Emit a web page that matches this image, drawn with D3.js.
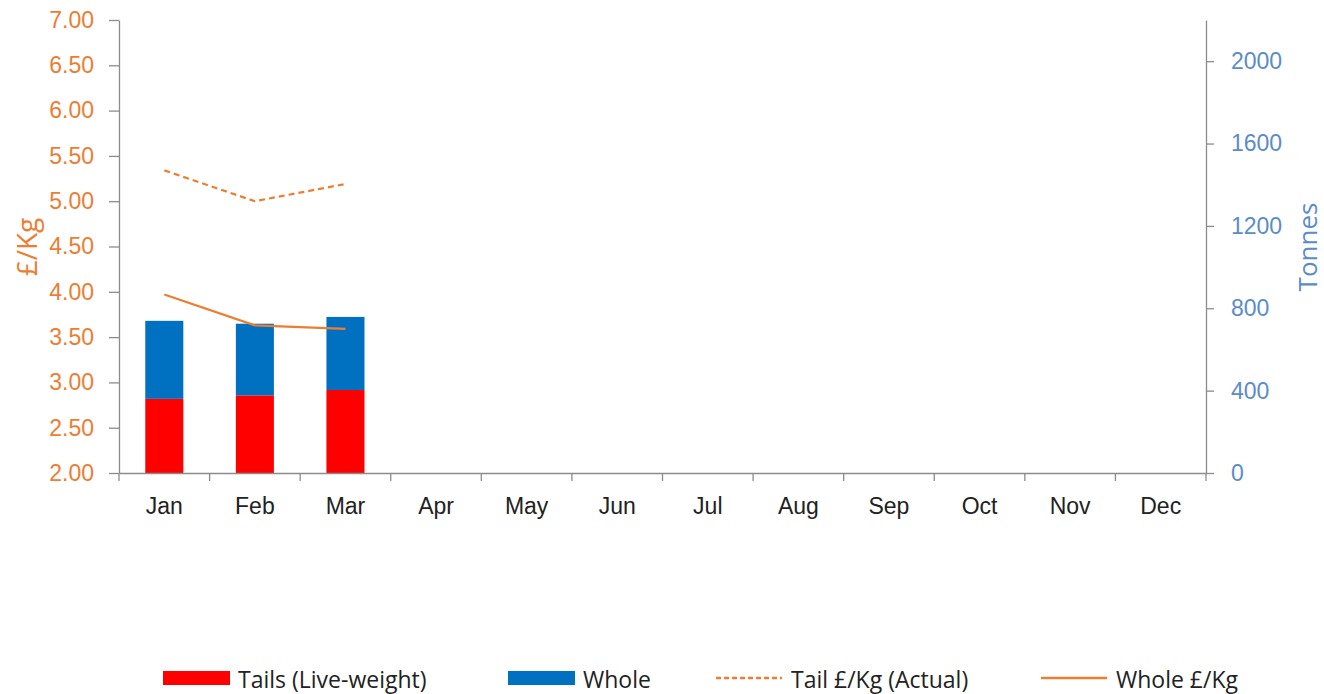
<!DOCTYPE html>
<html>
<head>
<meta charset="utf-8">
<script src="https://cdn.jsdelivr.net/npm/d3@7"></script>
<style>
  body { margin: 0; background: #fff; }
  svg { display: block; font-family: "Open Sans", "Liberation Sans", sans-serif; }
</style>
</head>
<body>
<svg id="chart" width="1324" height="694"></svg>
<script>
// chart data
const months = ["Jan", "Feb", "Mar", "Apr", "May", "Jun", "Jul", "Aug", "Sep", "Oct", "Nov", "Dec"];
const tails = [360, 377, 403];          // tonnes, live-weight
const whole = [379, 348, 355];          // tonnes
const tailPrice = [5.34, 5.00, 5.19];   // £/Kg actual
const wholePrice = [3.97, 3.63, 3.59];  // £/Kg
const priceTicks = [2, 2.5, 3, 3.5, 4, 4.5, 5, 5.5, 6, 6.5, 7];
const tonneTicks = [0, 400, 800, 1200, 1600, 2000];

const orange = "#ED7D31";
const blue = "#5B8CC8";
const grey = "#8C8C8C";
const fontSize = "23px";

let svg = d3.select("#chart");
let margin = {top: 20, left: 119, right: 118, bottom: 221};
let width = 1324 - margin.left - margin.right;
let height = 694 - margin.top - margin.bottom;

let g = svg.append("g")
	.attr("transform", "translate(" + margin.left + "," + margin.top + ")");

let x = d3.scaleBand().domain(months).range([0, width]).padding(0);
let yLeft = d3.scaleLinear().domain([2, 7]).range([height, 0]);
let yRight = d3.scaleLinear().domain([0, 2200]).range([height, 0]);

// bars (stacked)
let barW = x.bandwidth() * 0.42;
let stacked = tails.map(function(t, i){
	return {month: months[i], tails: t, whole: whole[i]};
});

g.selectAll("rect.tails")
	.data(stacked)
	.enter()
	.append("rect")
	.attr("class", "tails")
	.attr("x", d => x(d.month) + (x.bandwidth() - barW) / 2)
	.attr("width", barW)
	.attr("y", d => yRight(d.tails))
	.attr("height", d => yRight(0) - yRight(d.tails))
	.attr("fill", "#FF0000");

g.selectAll("rect.whole")
	.data(stacked)
	.enter()
	.append("rect")
	.attr("class", "whole")
	.attr("x", d => x(d.month) + (x.bandwidth() - barW) / 2)
	.attr("width", barW)
	.attr("y", d => yRight(d.tails + d.whole))
	.attr("height", d => yRight(d.tails) - yRight(d.tails + d.whole))
	.attr("fill", "#0070C0");

// lines
let line = d3.line()
	.x((d, i) => x(months[i]) + x.bandwidth() / 2)
	.y(d => yLeft(d));

g.append("path")
	.datum(tailPrice)
	.attr("d", line)
	.attr("fill", "none")
	.attr("stroke", orange)
	.attr("stroke-width", 2.2)
	.attr("stroke-dasharray", "6,4");

g.append("path")
	.datum(wholePrice)
	.attr("d", line)
	.attr("fill", "none")
	.attr("stroke", orange)
	.attr("stroke-width", 2.2);

// axes
let leftAxis = g.append("g")
	.call(d3.axisLeft(yLeft).tickValues(priceTicks).tickFormat(d3.format(".2f")).tickSize(10).tickPadding(15).tickSizeOuter(0));

let rightAxis = g.append("g")
	.attr("transform", "translate(" + width + ",0)")
	.call(d3.axisRight(yRight).tickValues(tonneTicks).tickFormat(d3.format("d")).tickSize(8).tickPadding(17).tickSizeOuter(0));

let xAxis = g.append("g")
	.attr("transform", "translate(0," + height + ")")
	.call(d3.axisBottom(x).tickSize(0).tickPadding(25));

// category tick marks sit on the band edges
xAxis.selectAll(".edge")
	.data(d3.range(months.length + 1))
	.enter()
	.append("line")
	.attr("class", "edge")
	.attr("x1", i => i * x.step())
	.attr("x2", i => i * x.step())
	.attr("y1", 0)
	.attr("y2", 8);

[leftAxis, rightAxis, xAxis].forEach(function(a){
	a.selectAll("path.domain").attr("stroke", grey).attr("stroke-width", 1.3);
	a.selectAll("line").attr("stroke", grey).attr("stroke-width", 1.3);
	a.selectAll("text").style("font-size", fontSize);
});
leftAxis.selectAll("text").attr("fill", orange);
rightAxis.selectAll("text").attr("fill", blue);
xAxis.selectAll("text").attr("fill", "#222");

// axis titles
svg.append("text")
	.attr("transform", "translate(37,247) rotate(-90)")
	.attr("text-anchor", "middle")
	.style("font-size", "28px")
	.attr("fill", orange)
	.text("£/Kg");

svg.append("text")
	.attr("transform", "translate(1317,247) rotate(-90)")
	.attr("text-anchor", "middle")
	.style("font-size", "26px")
	.attr("fill", blue)
	.text("Tonnes");

// legend
let legendItems = [
	{label: "Tails (Live-weight)", type: "rect", color: "#FF0000", x: 163},
	{label: "Whole", type: "rect", color: "#0070C0", x: 508},
	{label: "Tail £/Kg (Actual)", type: "dash", color: orange, x: 716},
	{label: "Whole £/Kg", type: "line", color: orange, x: 1041}
];

let legend = svg.append("g").attr("transform", "translate(0,678)");
let items = legend.selectAll("g")
	.data(legendItems)
	.enter()
	.append("g")
	.attr("transform", d => "translate(" + d.x + ",0)");

items.filter(d => d.type == "rect")
	.append("rect")
	.attr("x", 0).attr("y", -7)
	.attr("width", 67).attr("height", 14)
	.attr("fill", d => d.color);

items.filter(d => d.type != "rect")
	.append("line")
	.attr("x1", 0).attr("x2", 66)
	.attr("y1", 0).attr("y2", 0)
	.attr("stroke", d => d.color)
	.attr("stroke-width", 2.5)
	.attr("stroke-dasharray", d => d.type == "dash" ? "5,3" : null);

items.append("text")
	.attr("x", 75)
	.attr("y", 10)
	.style("font-size", fontSize)
	.attr("fill", "#222")
	.text(d => d.label);
</script>
</body>
</html>
